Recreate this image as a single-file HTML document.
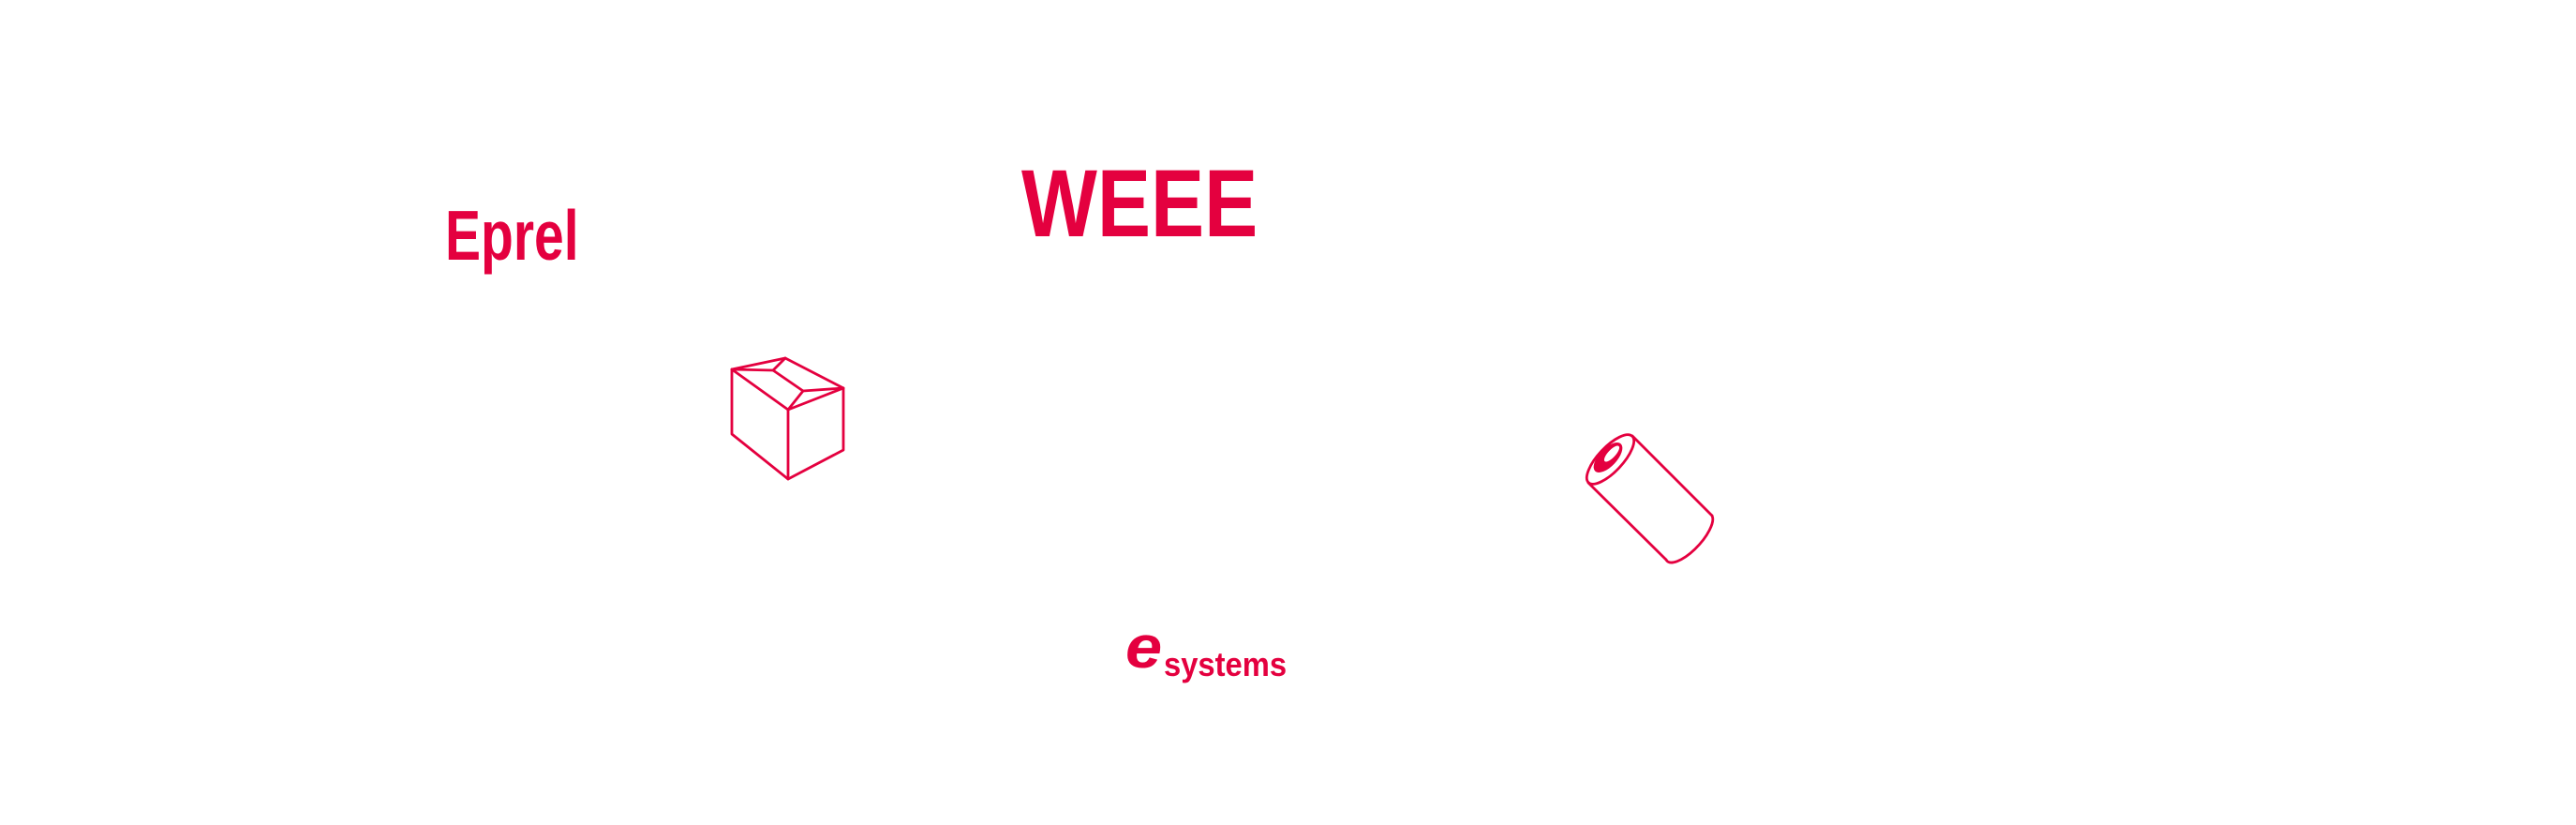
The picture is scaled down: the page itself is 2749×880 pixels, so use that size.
<!DOCTYPE html>
<html><head><meta charset="utf-8"><style>
html,body{margin:0;padding:0;background:#fff;width:2749px;height:880px;overflow:hidden}
svg{display:block}
text{font-family:"Liberation Sans",sans-serif;font-weight:bold;fill:#e4003f}
</style></head><body>
<svg width="2749" height="880" viewBox="0 0 2749 880" xmlns="http://www.w3.org/2000/svg">
<text x="0" y="0" font-size="75" transform="translate(475,277) scale(0.76,1)">Eprel</text>
<text x="0" y="0" font-size="102" transform="translate(1090,252) scale(0.84,1)">WEEE</text>
<text x="0" y="0" font-size="64" font-style="italic" transform="translate(1201,712) scale(1.1,1)">e</text>
<text x="0" y="0" font-size="36" transform="translate(1242,721) scale(0.91,1)">systems</text>
<g fill="none" stroke="#e4003f" stroke-width="2.8" stroke-linejoin="round" stroke-linecap="round">
<polygon points="781,394 838,382 900,414 900,480 841,511 781,463"/>
<polyline points="781,394 841,437 900,414"/>
<line x1="841" y1="437" x2="841" y2="511"/>
<polyline points="781,394 825,395 838,382"/>
<polyline points="825,395 857,417 900,414"/>
<line x1="857" y1="417" x2="841" y2="437"/>
<ellipse cx="1718.5" cy="490" rx="34" ry="13" transform="rotate(-46.8 1718.5 490)"/>
<line x1="1695" y1="515" x2="1778" y2="597"/>
<line x1="1742" y1="465" x2="1827" y2="550"/>
<path d="M1827,550 A34,13 -46.8 0 1 1778,597"/>
</g>
<ellipse cx="1716" cy="488" rx="20" ry="9.5" fill="#e4003f" transform="rotate(-46.8 1716 488)"/>
<ellipse cx="1720" cy="484" rx="11" ry="4" fill="#fff" transform="rotate(-46.8 1720 484)"/>
</svg>
</body></html>
